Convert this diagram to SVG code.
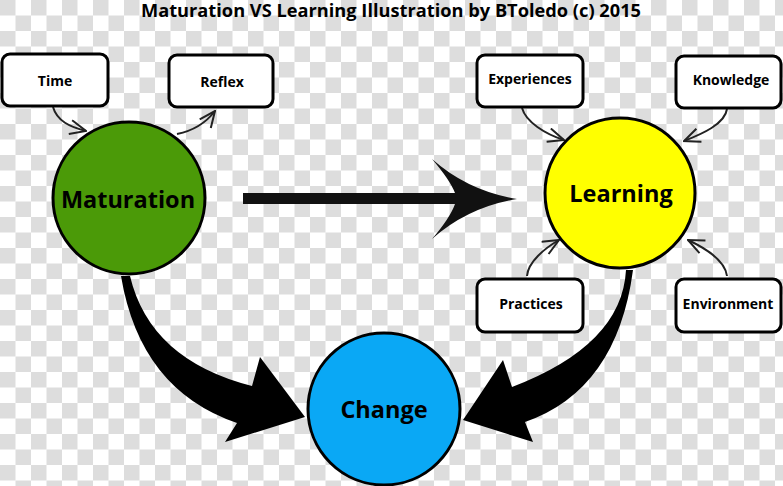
<svg xmlns="http://www.w3.org/2000/svg" width="783" height="486" viewBox="0 0 783 486">
  <style>
    .box { fill: #ffffff; stroke: #000; stroke-width: 3; }
    .blabel { font-family: "Open Sans", "Liberation Sans", sans-serif; font-weight: 700; font-size: 14px; fill: #000; text-anchor: middle; }
    .circ { stroke: #000; stroke-width: 3; }
    .clabel { font-family: "Open Sans", "Liberation Sans", sans-serif; font-weight: 700; font-size: 23.5px; fill: #000; text-anchor: middle; }
    .thin { fill: none; stroke: #222; stroke-width: 2; marker-end: url(#vhead); }
    .big { fill: #000; stroke: none; }
  </style>
  <defs>
    <pattern id="checker" width="31" height="31" patternUnits="userSpaceOnUse">
      <rect width="31" height="31" fill="#ffffff"/>
      <rect width="15.5" height="15.5" fill="#dddddd"/>
      <rect x="15.5" y="15.5" width="15.5" height="15.5" fill="#dddddd"/>
    </pattern>
    <marker id="vhead" viewBox="0 0 18 16" refX="17" refY="8" markerWidth="18" markerHeight="16" markerUnits="userSpaceOnUse" orient="auto">
      <path d="M1,1 L17,8 L1,15" fill="none" stroke="#222" stroke-width="2"/>
    </marker>
  </defs>
  <rect width="783" height="486" fill="url(#checker)"/>

  <text x="391" y="17" font-family="Open Sans, Liberation Sans, sans-serif" font-weight="700" font-size="17" text-anchor="middle" textLength="500" lengthAdjust="spacingAndGlyphs">Maturation VS Learning Illustration by BToledo (c) 2015</text>

  <g id="connectors">
    <path class="thin" d="M53,107 C57,121 70,127 86,131"/>
    <path class="thin" d="M177,134 C192,131 205,124 215,111"/>
    <path class="thin" d="M522,108 C526,122 545,134 564,140"/>
    <path class="thin" d="M727,109 C725,124 702,134 684,141"/>
    <path class="thin" d="M527,276 C528,262 545,248 559,240"/>
    <path class="thin" d="M727,276 C725,260 705,248 688,240"/>
    <g id="arrow-straight" fill="#111">
      <rect x="243" y="193" width="212" height="11"/>
      <path d="M432,159 Q468,191 517,199 Q468,207 432,239 Q450,218 455,204 L455,193 Q450,180 432,159 Z"/>
    </g>
    <path class="big" d="M121,276 Q140,390 237,423 L225,442 L305,417 L260,357 L252,386 Q150,360 130,276 Z"/>
    <path class="big" d="M633,270 Q617,390 525,422 L533,442 L463,420 L503,360 L512,387 Q622,345 626,270 Z"/>
  </g>

  <g id="node-time">
    <rect class="box" x="2" y="54" width="106" height="52" rx="8"/>
    <text class="blabel" x="55" y="86">Time</text>
  </g>
  <g id="node-reflex">
    <rect class="box" x="169" y="55" width="104" height="52" rx="8"/>
    <text class="blabel" x="222" y="87">Reflex</text>
  </g>
  <g id="node-experiences">
    <rect class="box" x="477" y="55" width="106" height="52" rx="8"/>
    <text class="blabel" x="530" y="84">Experiences</text>
  </g>
  <g id="node-knowledge">
    <rect class="box" x="676" y="56" width="105" height="52" rx="8"/>
    <text class="blabel" x="731" y="85">Knowledge</text>
  </g>
  <g id="node-practices">
    <rect class="box" x="477" y="279" width="106" height="53" rx="8"/>
    <text class="blabel" x="531" y="309">Practices</text>
  </g>
  <g id="node-environment">
    <rect class="box" x="676" y="279" width="105" height="53" rx="8"/>
    <text class="blabel" x="728" y="309">Environment</text>
  </g>

  <g id="node-maturation">
    <circle class="circ" cx="129" cy="198" r="76" fill="#4b9a08"/>
    <text class="clabel" x="128" y="208">Maturation</text>
  </g>
  <g id="node-learning">
    <circle class="circ" cx="620" cy="193" r="75" fill="#ffff00"/>
    <text class="clabel" x="621" y="202">Learning</text>
  </g>
  <g id="node-change">
    <circle class="circ" cx="384" cy="409" r="76" fill="#0aa8f5"/>
    <text class="clabel" x="384" y="418">Change</text>
  </g>
</svg>
